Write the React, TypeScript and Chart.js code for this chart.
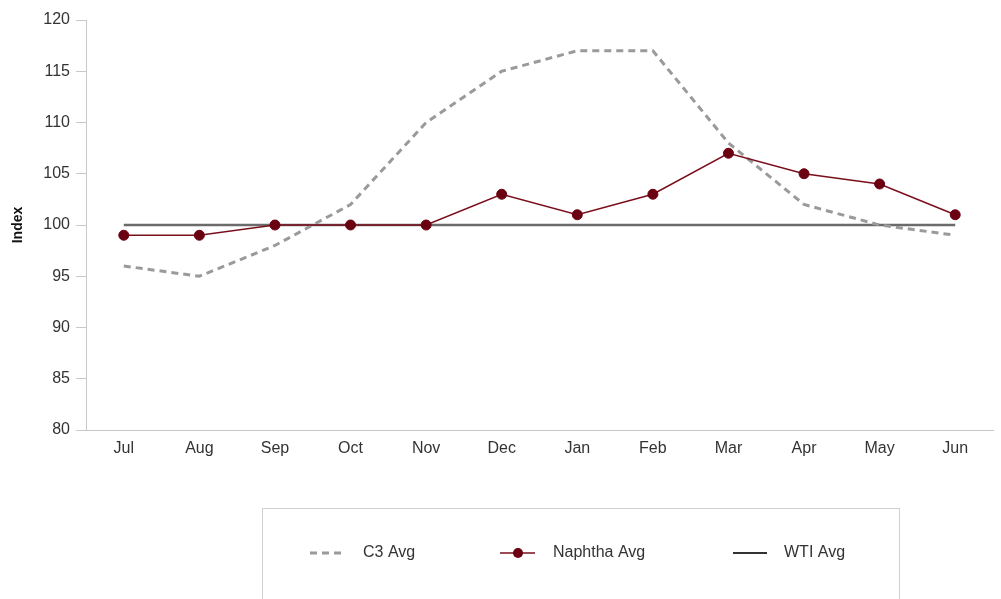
import React, { useEffect, useRef } from "react";
import { Chart, registerables } from "chart.js";

Chart.register(...registerables);

const months = ["Jul", "Aug", "Sep", "Oct", "Nov", "Dec", "Jan", "Feb", "Mar", "Apr", "May", "Jun"];
const c3Avg = [96, 95, 98, 102, 110, 115, 117, 117, 108, 102, 100, 99];
const naphthaAvg = [99, 99, 100, 100, 100, 103, 101, 103, 107, 105, 104, 101];
const wtiAvg = [100, 100, 100, 100, 100, 100, 100, 100, 100, 100, 100, 100];

const FONT = "'Liberation Sans', Arial, Helvetica, sans-serif";
const TEXT = "#333333";
const C3_COLOR = "#9a9a9a";
const NAPHTHA_COLOR = "#7a0f1c";
const NAPHTHA_POINT = "#6a0010";
const WTI_COLOR = "#6b6b6b";

// Boxed legend drawn under the x axis
const boxedLegend = {
  id: "boxedLegend",
  afterDraw(chart: Chart) {
    const ctx = chart.ctx;
    ctx.save();
    ctx.strokeStyle = "#cfcfcf";
    ctx.lineWidth = 1;
    ctx.strokeRect(262.5, 508.5, 637, 100);

    const y = 553;
    ctx.font = `16px ${FONT}`;
    ctx.fillStyle = TEXT;
    ctx.textBaseline = "middle";
    ctx.textAlign = "left";

    // C3 Avg
    ctx.strokeStyle = C3_COLOR;
    ctx.lineWidth = 3;
    ctx.setLineDash([7, 5]);
    ctx.beginPath();
    ctx.moveTo(310, y);
    ctx.lineTo(341, y);
    ctx.stroke();
    ctx.setLineDash([]);
    ctx.fillText("C3 Avg", 363, y);

    // Naphtha Avg
    ctx.strokeStyle = NAPHTHA_COLOR;
    ctx.lineWidth = 1.5;
    ctx.beginPath();
    ctx.moveTo(500, y);
    ctx.lineTo(535, y);
    ctx.stroke();
    ctx.fillStyle = NAPHTHA_POINT;
    ctx.beginPath();
    ctx.arc(518, y, 5, 0, Math.PI * 2);
    ctx.fill();
    ctx.fillStyle = TEXT;
    ctx.fillText("Naphtha Avg", 553, y);

    // WTI Avg
    ctx.strokeStyle = "#333333";
    ctx.lineWidth = 2;
    ctx.beginPath();
    ctx.moveTo(733, y);
    ctx.lineTo(767, y);
    ctx.stroke();
    ctx.fillText("WTI Avg", 784, y);
    ctx.restore();
  },
};

export default function App() {
  const canvasRef = useRef<HTMLCanvasElement | null>(null);

  useEffect(() => {
    document.body.style.margin = "0";
    const canvas = canvasRef.current;
    if (!canvas) return;
    const chart = new Chart(canvas, {
      type: "line",
      data: {
        labels: months,
        datasets: [
          {
            label: "WTI Avg",
            data: wtiAvg,
            borderColor: WTI_COLOR,
            borderWidth: 2.5,
            pointRadius: 0,
            tension: 0,
            order: 3,
          },
          {
            label: "C3 Avg",
            data: c3Avg,
            borderColor: C3_COLOR,
            borderWidth: 3,
            borderDash: [7, 5],
            pointRadius: 0,
            tension: 0,
            order: 2,
          },
          {
            label: "Naphtha Avg",
            data: naphthaAvg,
            borderColor: NAPHTHA_COLOR,
            borderWidth: 1.5,
            pointRadius: 5,
            pointBackgroundColor: NAPHTHA_POINT,
            pointBorderColor: NAPHTHA_POINT,
            pointBorderWidth: 1,
            tension: 0,
            order: 1,
          },
        ],
      },
      options: {
        animation: false,
        responsive: false,
        maintainAspectRatio: false,
        layout: { padding: { left: 0, right: 8, top: 20, bottom: 0 } },
        plugins: {
          legend: { display: false },
          tooltip: { enabled: false },
        },
        scales: {
          x: {
            offset: true,
            grid: { display: false, drawTicks: false },
            border: { display: true, color: "#c8c8c8", width: 1 },
            ticks: {
              color: TEXT,
              font: { family: FONT, size: 16 },
              padding: 9,
              maxRotation: 0,
              autoSkip: false,
            },
            afterFit(scale: any) {
              scale.height = 169;
            },
          },
          y: {
            min: 80,
            max: 120,
            ticks: {
              stepSize: 5,
              color: TEXT,
              font: { family: FONT, size: 16 },
              padding: 6,
            },
            grid: {
              drawOnChartArea: false,
              drawTicks: true,
              tickLength: 10,
              color: "#c8c8c8",
            },
            border: { display: true, color: "#c8c8c8", width: 1 },
            title: {
              display: true,
              text: "Index",
              color: "#111111",
              font: { family: FONT, size: 14, weight: "bold" },
              padding: { top: 10, bottom: 0 },
            },
            afterFit(scale: any) {
              scale.width = 86;
            },
          },
        },
      },
      plugins: [boxedLegend],
    });
    return () => chart.destroy();
  }, []);

  return (
    <div style={{ position: "absolute", left: 0, top: 0, width: 1001, height: 599, background: "#fff" }}>
      <canvas ref={canvasRef} width={1001} height={599} style={{ width: 1001, height: 599 }} />
    </div>
  );
}
